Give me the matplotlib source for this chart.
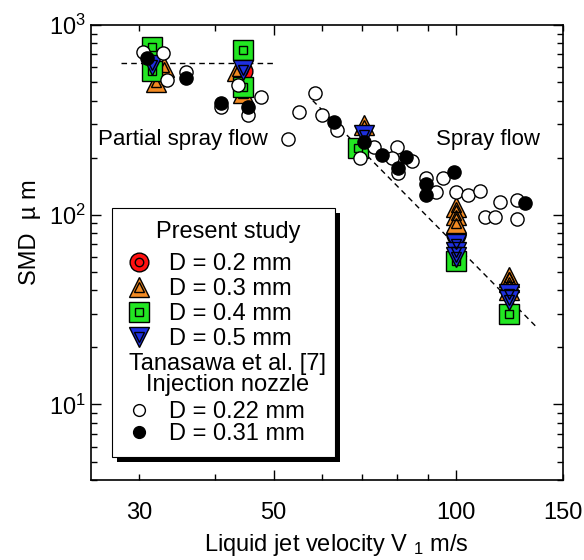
import matplotlib
matplotlib.use("Agg")
import matplotlib.pyplot as plt
from matplotlib.lines import Line2D
from matplotlib.patches import Rectangle

plt.rcParams['font.family'] = ['Liberation Sans', 'DejaVu Sans']
plt.rcParams['mathtext.default'] = 'regular'

# ---- present study (V m/s, SMD um) ----
v_d02 = [44.5, 44.5, 44.5, 100]
smd_d02 = [740, 575, 455, 78]

v_d03 = [32, 33, 43.5, 44.5, 70.5, 100, 100, 100, 122, 122, 122]
smd_d03 = [500, 600, 575, 440, 298, 110, 100, 91, 47, 44, 40]

v_d04 = [31.5, 31.5, 44.5, 44.5, 69, 100, 122]
smd_d04 = [770, 570, 740, 470, 225, 57, 30]

v_d05 = [31.5, 44.5, 70.5, 100, 100, 100, 122, 122]
smd_d05 = [615, 580, 262, 70, 64, 60, 38, 35.5]

# ---- Tanasawa et al. [7] ----
v_d022 = [30.4, 32.9, 33.3, 35.9, 41, 43.6, 47.7, 45.3, 55, 58.6, 52.9, 60,
          63.6, 69.5, 73.3, 80, 78.5, 84.7, 80.3, 89.3, 92.6, 95.2, 99.8,
          104.5, 109.4, 118, 111.5, 116, 125.9, 125.9]
smd_d022 = [721, 712, 514, 566, 370, 483, 418, 336, 349, 438, 251, 336,
            280, 200, 228, 228, 200, 192, 166, 157, 132, 157, 131,
            127, 134, 117, 97.7, 97.7, 120, 95]

v_d031 = [30.9, 35.9, 41, 45.3, 63, 70.5, 75.5, 82.7, 80.3, 89.3, 89.3, 99, 129.7]
smd_d031 = [670, 526, 388, 370, 308, 242, 207, 202, 177, 146, 127, 168, 116]

# ---- guide lines ----
v_partial = [28, 50]
smd_partial = [630, 630]
v_spray = [58, 135]
smd_spray = [400, 26]

fig = plt.figure(figsize=(5.84, 5.6), dpi=100)
ax = fig.add_axes([91 / 584, 80 / 560, 472 / 584, 455 / 560])
ax.set_xscale('log')
ax.set_yscale('log')

ax.plot(v_partial, smd_partial, ls=(0, (4, 3)), color='black', lw=1)
ax.plot(v_spray, smd_spray, ls=(0, (4, 3)), color='black', lw=1)

series = [
    (v_d02, smd_d02, 'o', '#ff1010', 'D = 0.2 mm', 13.5),
    (v_d03, smd_d03, '^', '#f28a22', 'D = 0.3 mm', 15),
    (v_d04, smd_d04, 's', '#22e622', 'D = 0.4 mm', 14),
    (v_d05, smd_d05, 'v', '#1e30e0', 'D = 0.5 mm', 15),
]
present_handles = []
present_labels = []
for v, d, m, c, lab, ms in series:
    ax.plot(v, d, ls='none', marker=m, ms=ms, mfc=c, mec='black', mew=1)
    ax.plot(v, d, ls='none', marker=m, ms=ms * 0.45, mfc='none', mec='black', mew=1)
    outer = Line2D([], [], ls='none', marker=m, ms=ms, mfc=c, mec='black', mew=1)
    inner = Line2D([], [], ls='none', marker=m, ms=ms * 0.45, mfc='none', mec='black', mew=1)
    present_handles.append((outer, inner))
    present_labels.append(lab)

ax.plot(v_d022, smd_d022, ls='none', marker='o', ms=9.5, mfc='white', mec='black', mew=1)
ax.plot(v_d031, smd_d031, ls='none', marker='o', ms=9.5, mfc='black', mec='black', mew=1)

ax.text(25.7, 248, 'Partial spray flow', fontsize=16, ha='left', va='center')
ax.text(92.6, 248, 'Spray flow', fontsize=16, ha='left', va='center')

ax.set_xlim(25, 150)
ax.set_ylim(4, 1000)

ax.set_xticks([50, 100], ['50', '100'])
ax.set_xticks([30, 40, 60, 70, 80, 90, 150],
              ['30', '', '', '', '', '', '150'], minor=True)
ax.tick_params(axis='both', which='both', direction='in', top=True, right=True,
               labelsize=17, width=1)
ax.tick_params(axis='x', which='both', pad=16)
ax.tick_params(axis='y', which='both', pad=4)
ax.tick_params(axis='both', which='major', length=7)
ax.tick_params(axis='both', which='minor', length=4.3)
for s in ax.spines.values():
    s.set_linewidth(1.2)

ax.set_xlabel('Liquid jet velocity V $_{1}$ m/s', fontsize=17)
ax.set_ylabel('SMD  \u00b5 m', fontsize=17)
ax.xaxis.set_label_coords(0.52, -0.143)
ax.xaxis.label.set_va('center')
ax.yaxis.set_label_coords(-0.129, 0.545)
ax.yaxis.label.set_va('center')

# legend box with shadow
ax.add_patch(Rectangle((0.0445 + 0.0106, 0.0505 - 0.011), 0.4725, 0.5475,
                       transform=ax.transAxes, fc='black', ec='none', zorder=3.9))
ax.add_patch(Rectangle((0.0445, 0.0505), 0.4725, 0.5475,
                       transform=ax.transAxes, fc='white', ec='black', lw=0.8, zorder=4))

ax.text(0.29, 0.545, 'Present study', transform=ax.transAxes, fontsize=17,
        ha='center', va='center', zorder=6)
ax.text(0.29, 0.232, 'Tanasawa et al. [7]\nInjection nozzle', transform=ax.transAxes,
        fontsize=17, ha='center', va='center', multialignment='center',
        linespacing=0.95, zorder=6)

leg1 = ax.legend(present_handles, present_labels,
                 loc='upper left', bbox_to_anchor=(0.0657, 0.499), frameon=False,
                 fontsize=17, handlelength=1.4, handletextpad=0.6,
                 labelspacing=0.13, borderpad=0, borderaxespad=0)
ax.add_artist(leg1)

tan_handles = [
    Line2D([], [], ls='none', marker='o', ms=8.5, mfc='white', mec='black', mew=1),
    Line2D([], [], ls='none', marker='o', ms=8.5, mfc='black', mec='black', mew=1),
]
leg2 = ax.legend(tan_handles, ['D = 0.22 mm', 'D = 0.31 mm'],
                 loc='upper left', bbox_to_anchor=(0.0657, 0.174), frameon=False,
                 fontsize=17, handlelength=1.4, handletextpad=0.6,
                 labelspacing=0.0, borderpad=0, borderaxespad=0)

fig.savefig('out.png', dpi=100)
